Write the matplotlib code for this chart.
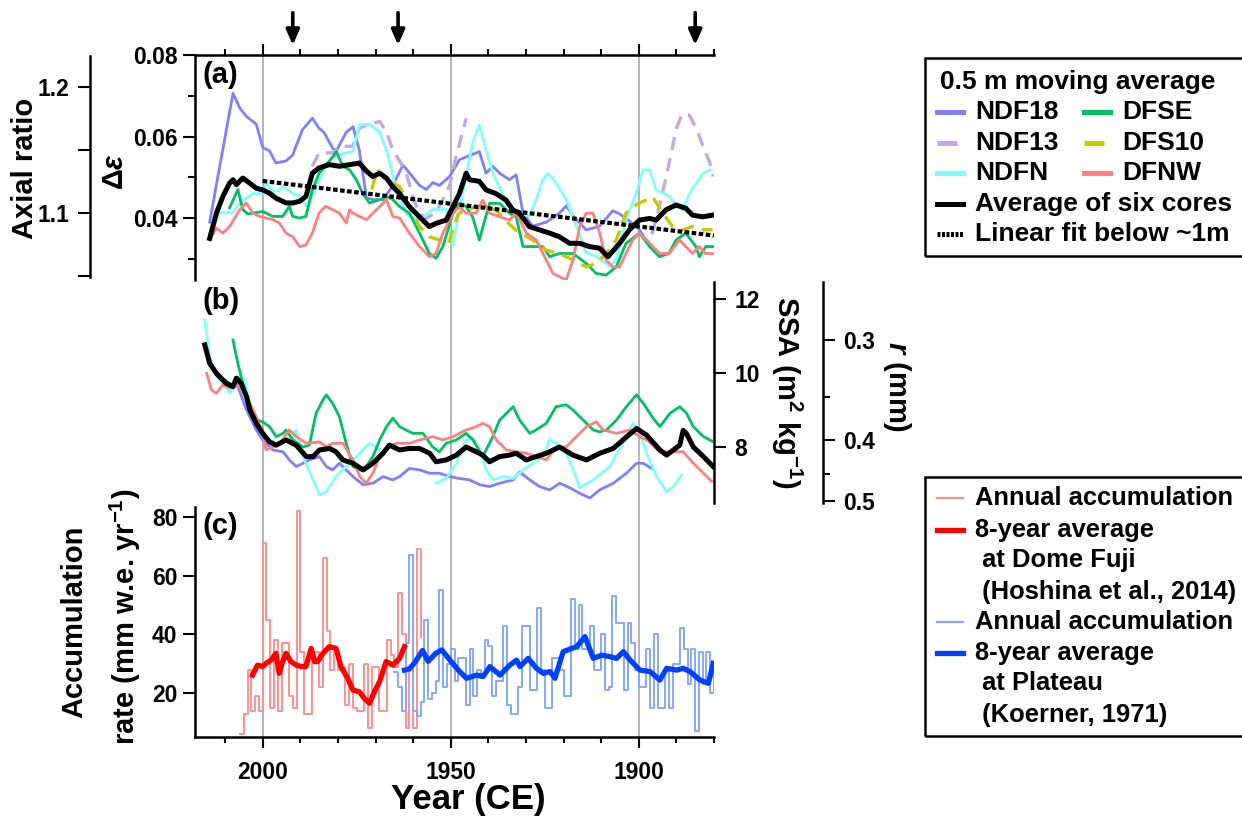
import numpy as np
import matplotlib
matplotlib.use("Agg")
import matplotlib.pyplot as plt
from matplotlib.lines import Line2D
from matplotlib.patches import Rectangle

W, H = 1242, 825

plt.rcParams['font.family'] = ['Liberation Sans', 'DejaVu Sans']
plt.rcParams['font.weight'] = 'bold'
plt.rcParams['mathtext.fontset'] = 'custom'
plt.rcParams['mathtext.rm'] = 'Liberation Sans:bold'
plt.rcParams['mathtext.it'] = 'Liberation Sans:bold:italic'
plt.rcParams['mathtext.bf'] = 'Liberation Sans:bold'

# ---- shared time axis ----
YEARS_MAJOR = [2000, 1950, 1900]
YEARS_MINOR = [2010, 1990, 1980, 1970, 1960, 1940, 1930, 1920, 1910, 1890, 1880]
ARROW_YEARS = [1992, 1964, 1885]

# ---- (a) delta epsilon, 0.5 m moving average ----
NDF18_A_YR = [2014.1, 2007.9, 2006.1, 2004.4, 2001.7, 2000.0, 1998.2, 1996.5, 1993.8, 1992.0,
              1991.2, 1989.4, 1986.8, 1985.0, 1983.7, 1981.3, 1980.4, 1977.8, 1976.0, 1974.3,
              1972.4, 1970.7, 1968.0, 1965.4, 1962.7, 1961.8, 1958.3, 1956.5, 1954.8, 1953.0,
              1950.3, 1947.7, 1945.9, 1942.4, 1940.6, 1938.8, 1937.0, 1934.4, 1932.6, 1930.8,
              1928.2, 1924.6, 1921.1, 1919.3, 1917.5, 1914.0, 1910.4, 1906.9, 1905.1, 1903.4,
              1899.8, 1897.1]
NDF18_A = [0.039, 0.0706, 0.067, 0.065, 0.063, 0.0573, 0.0565, 0.0535, 0.054, 0.0555,
           0.0575, 0.0617, 0.0645, 0.062, 0.061, 0.057, 0.0565, 0.061, 0.0624, 0.0566,
           0.045, 0.0445, 0.0445, 0.048, 0.053, 0.052, 0.048, 0.047, 0.0487, 0.048,
           0.0502, 0.0543, 0.055, 0.0563, 0.051, 0.0527, 0.051, 0.0494, 0.0506, 0.0412,
           0.038, 0.039, 0.0412, 0.043, 0.0406, 0.0371, 0.038, 0.0418, 0.041, 0.040,
           0.0371, 0.033]

NDF13_A_YR = [1986.8, 1985.0, 1981.3, 1979.6, 1976.0, 1974.3, 1972.4, 1968.9, 1967.1, 1965.4,
              1963.6, 1961.8, 1960.0, 1958.3, 1956.5, 1953.9, 1952.1, 1950.3, 1948.6, 1945.9]
NDF13_A = [0.0527, 0.056, 0.056, 0.0576, 0.0576, 0.062, 0.0628, 0.0637, 0.0612, 0.0567,
           0.054, 0.051, 0.045, 0.0412, 0.040, 0.0412, 0.0445, 0.048, 0.0551, 0.0645]
NDF13_B_YR = [1896.5, 1895.0, 1892.5, 1890.0, 1888.5, 1886.5, 1884.6, 1882.9, 1881.1, 1880.2]
NDF13_B = [0.036, 0.041, 0.051, 0.062, 0.0655, 0.0652, 0.0617, 0.0576, 0.0535, 0.0502]

NDFN_A_YR = [2014.1, 2012.3, 2011.4, 2007.9, 2006.1, 2002.6, 2000.0, 1999.1, 1997.3, 1995.6,
             1994.7, 1992.0, 1990.2, 1988.5, 1986.8, 1985.0, 1983.3, 1981.3, 1977.8, 1976.0,
             1974.3, 1971.6, 1968.9, 1967.1, 1964.5, 1961.8, 1960.0, 1958.3, 1954.8, 1951.2,
             1949.5, 1947.0, 1944.2, 1942.4, 1940.6, 1938.8, 1936.2, 1933.5, 1930.8, 1929.1,
             1927.3, 1925.5, 1924.2, 1922.0, 1919.3, 1916.6, 1914.0, 1911.3, 1907.8, 1906.0,
             1903.4, 1900.7, 1898.9, 1897.1, 1895.4, 1891.8, 1890.0, 1888.3, 1886.5, 1882.9,
             1881.1]
NDFN_A = [0.0363, 0.0396, 0.0413, 0.0413, 0.0437, 0.046, 0.046, 0.0486, 0.0466, 0.0466,
          0.0478, 0.046, 0.0453, 0.0429, 0.0453, 0.0494, 0.0527, 0.0551, 0.056, 0.0564,
          0.0628, 0.063, 0.061, 0.0567, 0.047, 0.041, 0.040, 0.0396, 0.0421, 0.0421,
          0.0331, 0.045, 0.0584, 0.0628, 0.0567, 0.051, 0.046, 0.041, 0.041, 0.0404,
          0.0445, 0.0494, 0.051, 0.0486, 0.0445, 0.038, 0.0315, 0.0306, 0.0282, 0.0298,
          0.0396, 0.046, 0.0518, 0.0518, 0.0469, 0.0453, 0.0429, 0.0421, 0.0461, 0.051,
          0.0518]

DFSE_A_YR = [2008.8, 2006.6, 2005.3, 2004.0, 2000.0, 1997.3, 1994.7, 1992.9, 1992.0, 1990.2,
             1988.5, 1986.8, 1985.0, 1981.3, 1980.4, 1978.7, 1976.9, 1975.1, 1973.4, 1971.6,
             1968.9, 1967.1, 1965.4, 1963.6, 1961.0, 1958.3, 1955.7, 1953.9, 1952.1, 1949.4,
             1947.7, 1945.9, 1944.2, 1942.4, 1939.7, 1937.0, 1934.4, 1932.6, 1930.8, 1928.2,
             1925.5, 1923.7, 1921.1, 1917.5, 1914.0, 1911.3, 1908.7, 1906.0, 1903.4, 1899.8,
             1897.1, 1894.5, 1892.0, 1890.1, 1887.5, 1884.8, 1883.9, 1882.2, 1880.4]
DFSE_A = [0.0425, 0.047, 0.0421, 0.041, 0.0416, 0.0404, 0.0404, 0.0429, 0.0404, 0.040,
          0.0404, 0.0469, 0.051, 0.0551, 0.0563, 0.0527, 0.0518, 0.0494, 0.046, 0.0437,
          0.0445, 0.0453, 0.0445, 0.0428, 0.0412, 0.0363, 0.0313, 0.0301, 0.033, 0.0412,
          0.0436, 0.0428, 0.0403, 0.0346, 0.0436, 0.0436, 0.0412, 0.0403, 0.033, 0.033,
          0.033, 0.0305, 0.0313, 0.0313, 0.0289, 0.0264, 0.026, 0.028, 0.0338, 0.0363,
          0.033, 0.0305, 0.0313, 0.0346, 0.0363, 0.033, 0.0305, 0.033, 0.033]

DFS10_A_YR = [1971.0, 1969.5, 1968.0, 1966.0, 1963.6, 1961.0, 1958.3, 1955.7, 1953.0, 1950.5,
              1949.5, 1948.0, 1946.0, 1942.0, 1938.0, 1935.0, 1932.6, 1928.2, 1924.6, 1921.1,
              1917.5, 1914.0, 1911.3, 1908.7, 1906.0, 1903.4, 1901.6, 1898.0, 1896.3, 1893.6,
              1891.0, 1888.3, 1885.7, 1883.0, 1880.4]
DFS10_A = [0.047, 0.052, 0.050, 0.049, 0.0477, 0.0428, 0.0379, 0.0354, 0.0346, 0.0338,
           0.037, 0.041, 0.042, 0.043, 0.042, 0.039, 0.037, 0.0346, 0.0321, 0.0313,
           0.0297, 0.028, 0.0289, 0.0313, 0.0346, 0.0412, 0.0428, 0.0445, 0.0452, 0.0412,
           0.0379, 0.0371, 0.0379, 0.0371, 0.0371]

DFNW_A_YR = [2014.4, 2014.1, 2012.3, 2010.6, 2008.8, 2006.1, 2004.4, 2002.6, 2000.9, 1999.1,
             1997.3, 1995.6, 1993.8, 1992.0, 1990.2, 1988.5, 1986.8, 1985.0, 1983.3, 1981.3,
             1979.6, 1977.8, 1976.9, 1976.0, 1974.3, 1972.4, 1970.7, 1968.9, 1967.1, 1965.4,
             1963.6, 1961.0, 1958.3, 1955.7, 1953.9, 1952.1, 1949.4, 1947.7, 1945.9, 1943.3,
             1941.5, 1939.7, 1937.0, 1934.4, 1932.6, 1929.9, 1927.3, 1924.6, 1922.8, 1921.1,
             1919.3, 1917.5, 1915.7, 1914.0, 1912.2, 1910.4, 1908.7, 1906.9, 1905.1, 1903.4,
             1901.6, 1899.8, 1897.1, 1894.5, 1891.9, 1889.2, 1887.5, 1885.7, 1884.0, 1882.2,
             1880.4]
DFNW_A = [0.035, 0.0346, 0.0375, 0.0363, 0.0379, 0.042, 0.0437, 0.0412, 0.0404, 0.040,
          0.0396, 0.0388, 0.0363, 0.0354, 0.033, 0.0334, 0.0363, 0.0412, 0.0429, 0.042,
          0.0412, 0.0388, 0.042, 0.0412, 0.0404, 0.0396, 0.0412, 0.0428, 0.0445, 0.0404,
          0.040, 0.0363, 0.033, 0.0305, 0.0313, 0.0363, 0.0412, 0.0428, 0.0412, 0.0412,
          0.0444, 0.0412, 0.0403, 0.0395, 0.0412, 0.0363, 0.0346, 0.0297, 0.0264, 0.0256,
          0.0248, 0.0297, 0.0379, 0.0412, 0.0412, 0.0363, 0.0297, 0.028, 0.028, 0.0313,
          0.0346, 0.0363, 0.0338, 0.0313, 0.0313, 0.0346, 0.033, 0.0313, 0.033, 0.0313,
          0.0313]

MEAN_A_YR = [2014.1, 2012.3, 2010.6, 2008.8, 2007.9, 2007.0, 2005.3, 2003.5, 2001.7, 2000.0,
             1998.2, 1996.5, 1993.8, 1992.0, 1990.2, 1988.5, 1986.8, 1985.0, 1982.3, 1979.6,
             1976.9, 1974.3, 1972.4, 1970.7, 1968.9, 1967.1, 1965.4, 1963.6, 1961.0, 1958.3,
             1955.7, 1953.9, 1951.2, 1949.4, 1947.7, 1945.9, 1945.0, 1942.4, 1940.6, 1938.0,
             1935.3, 1933.5, 1931.8, 1929.1, 1926.4, 1923.7, 1921.1, 1918.4, 1915.7, 1913.1,
             1910.4, 1908.2, 1905.1, 1902.5, 1899.8, 1897.1, 1895.4, 1892.8, 1890.1, 1887.5,
             1885.7, 1883.0, 1880.4]
MEAN_A = [0.035, 0.0412, 0.0453, 0.0486, 0.0494, 0.0482, 0.0498, 0.0486, 0.0473, 0.0469,
          0.0461, 0.0449, 0.0437, 0.0437, 0.0441, 0.0453, 0.051, 0.0523, 0.0531, 0.0527,
          0.0531, 0.0535, 0.0515, 0.0502, 0.051, 0.0498, 0.0477, 0.046, 0.0428, 0.0403,
          0.0379, 0.0387, 0.0395, 0.0428, 0.046, 0.051, 0.0494, 0.049, 0.0469, 0.046,
          0.0444, 0.042, 0.0412, 0.0379, 0.0371, 0.0363, 0.0354, 0.0338, 0.0338, 0.033,
          0.0326, 0.0305, 0.0338, 0.0371, 0.0395, 0.0399, 0.0395, 0.042, 0.0432, 0.0424,
          0.0407, 0.0403, 0.0407]

FIT_YR = [2000, 1880]
FIT_A = [0.0491, 0.0357]

# ---- (b) specific surface area ----
NDF18_B_YR = [2013.3, 2011.4, 2008.8, 2006.6, 2004.3, 2001.7, 2000.0, 1997.3, 1994.6, 1992.9,
              1991.1, 1989.3, 1987.6, 1984.9, 1983.1, 1981.4, 1979.6, 1977.8, 1976.0, 1973.3,
              1970.7, 1968.0, 1965.4, 1963.6, 1961.0, 1958.3, 1955.6, 1953.0, 1950.3, 1947.7,
              1945.0, 1942.3, 1939.7, 1937.0, 1933.4, 1931.7, 1929.0, 1926.4, 1923.7, 1921.0,
              1918.4, 1915.7, 1913.0, 1910.4, 1906.8, 1903.3, 1900.6, 1898.8, 1896.6]
NDF18_B = [10.1, 9.9, 9.72, 9.63, 9.0, 8.46, 8.19, 7.92, 7.87, 7.65,
           7.47, 7.56, 7.65, 7.74, 7.47, 7.38, 7.56, 7.38, 7.2, 6.98,
           7.02, 7.2, 7.11, 7.2, 7.42, 7.38, 7.29, 7.29, 7.2, 7.15,
           7.11, 6.98, 6.93, 7.02, 7.11, 7.33, 7.11, 6.93, 6.84, 7.02,
           6.9, 6.75, 6.62, 6.84, 7.02, 7.29, 7.56, 7.56, 7.42]

NDFN_B1_YR = [2015.4, 2014.1, 2012.3, 2009.7, 2008.8, 2007.5, 2006.1, 2004.8, 2003.4, 2000.0,
              1996.4, 1992.9, 1991.1, 1989.3, 1986.6, 1984.9, 1983.1, 1980.5, 1976.9, 1974.2,
              1971.6, 1968.9]
NDFN_B1 = [11.43, 10.44, 9.9, 9.59, 9.45, 9.63, 9.9, 9.81, 9.18, 8.28,
           8.1, 8.19, 8.46, 7.74, 7.11, 6.7, 6.79, 7.2, 7.56, 7.83,
           8.1, 7.92]
NDFN_B2_YR = [1953.9, 1951.2, 1948.5, 1945.9, 1944.1, 1942.3, 1940.6, 1938.8, 1936.1, 1933.4,
              1930.8, 1928.1, 1925.5, 1923.7, 1921.9, 1919.3, 1917.5, 1915.7, 1912.1, 1907.7,
              1904.2, 1901.5, 1899.7, 1897.9, 1895.3, 1892.6, 1890.8, 1888.6]
NDFN_B2 = [7.02, 7.15, 7.56, 8.19, 8.24, 7.92, 7.38, 7.11, 7.2, 7.15,
           7.38, 7.56, 7.74, 8.19, 8.1, 7.83, 7.4, 6.9, 7.11, 7.47,
           8.1, 8.64, 8.37, 7.83, 7.2, 6.79, 6.93, 7.24]

DFSE_B_YR = [2007.9, 2006.6, 2005.3, 2003.4, 2001.7, 2000.0, 1998.2, 1996.4, 1994.6, 1993.8,
             1992.0, 1989.3, 1987.6, 1985.8, 1984.0, 1983.1, 1981.4, 1979.6, 1977.8, 1976.0,
             1974.2, 1972.5, 1970.7, 1968.9, 1967.1, 1965.4, 1963.6, 1961.9, 1960.1, 1957.4,
             1954.8, 1953.0, 1951.2, 1948.5, 1945.9, 1944.1, 1941.5, 1938.8, 1937.0, 1935.2,
             1933.4, 1931.7, 1929.0, 1927.3, 1924.6, 1922.0, 1919.3, 1917.5, 1914.8, 1912.1,
             1910.4, 1908.6, 1905.9, 1903.3, 1900.6, 1898.8, 1896.2, 1894.4, 1891.7, 1889.1,
             1887.3, 1885.5, 1882.8, 1880.2]
DFSE_B = [10.89, 10.26, 9.72, 8.9, 8.73, 8.68, 8.55, 8.28, 8.37, 8.46,
          8.19, 8.0, 8.05, 8.91, 9.27, 9.41, 9.18, 8.82, 8.1, 7.47,
          7.38, 7.47, 7.74, 8.19, 8.55, 8.78, 8.55, 8.46, 8.37, 8.37,
          8.0, 7.87, 8.1, 8.19, 8.37, 8.19, 7.74, 8.28, 8.73, 8.91,
          9.09, 8.73, 8.37, 8.46, 8.64, 9.09, 9.14, 9.0, 8.73, 8.46,
          8.41, 8.46, 8.73, 9.09, 9.41, 9.18, 8.78, 8.55, 8.91, 9.09,
          8.91, 8.55, 8.28, 8.14]

DFNW_B_YR = [2014.9, 2013.6, 2012.3, 2010.6, 2008.8, 2007.0, 2005.3, 2003.4, 2001.7, 2000.0,
             1999.1, 1997.3, 1995.5, 1992.9, 1991.1, 1988.4, 1984.9, 1983.1, 1981.4, 1978.7,
             1976.0, 1974.2, 1972.5, 1970.7, 1968.9, 1967.1, 1964.5, 1960.9, 1958.3, 1954.8,
             1952.1, 1949.4, 1945.9, 1943.2, 1941.5, 1939.7, 1937.9, 1935.2, 1932.6, 1929.9,
             1927.3, 1924.6, 1921.9, 1919.3, 1917.5, 1913.9, 1911.3, 1909.5, 1905.9, 1902.4,
             1899.7, 1897.9, 1894.4, 1890.8, 1888.2, 1885.5, 1882.8, 1880.6]
DFNW_B = [9.99, 9.54, 9.45, 9.68, 9.59, 9.72, 9.54, 9.18, 8.82, 8.37,
          7.92, 8.0, 8.1, 8.46, 8.28, 8.1, 8.14, 8.0, 8.1, 8.1,
          7.65, 7.2, 7.02, 7.29, 7.74, 8.0, 8.1, 8.1, 8.19, 8.28,
          8.19, 8.28, 8.46, 8.55, 8.64, 8.55, 8.19, 7.92, 7.87, 7.83,
          7.74, 7.65, 8.0, 8.0, 8.19, 8.55, 8.68, 8.46, 8.37, 8.46,
          8.28, 8.19, 7.87, 7.87, 7.87, 7.56, 7.29, 7.07]

MEAN_B_YR = [2015.4, 2014.1, 2012.3, 2009.7, 2007.9, 2007.0, 2005.7, 2004.3, 2003.4, 2001.7,
             2000.0, 1998.2, 1996.4, 1993.8, 1991.1, 1988.4, 1986.6, 1984.9, 1982.2, 1980.5,
             1978.7, 1976.0, 1973.3, 1970.7, 1968.0, 1966.3, 1963.6, 1961.0, 1958.3, 1955.6,
             1953.9, 1951.2, 1948.5, 1945.9, 1943.2, 1941.5, 1939.7, 1937.0, 1934.4, 1932.6,
             1929.9, 1927.3, 1924.6, 1921.1, 1917.5, 1913.9, 1910.4, 1906.8, 1903.3, 1900.6,
             1897.9, 1894.4, 1892.6, 1890.8, 1889.1, 1888.2, 1887.3, 1885.5, 1882.8, 1880.2]
MEAN_B = [10.76, 10.26, 9.99, 9.72, 9.63, 9.86, 9.72, 9.36, 9.0, 8.64,
          8.37, 8.14, 8.05, 8.19, 8.05, 7.74, 7.74, 7.92, 7.96, 7.87,
          7.65, 7.56, 7.38, 7.56, 7.83, 8.05, 7.92, 7.96, 7.96, 7.83,
          7.6, 7.65, 7.78, 8.0, 7.87, 7.78, 7.6, 7.74, 7.78, 7.83,
          7.65, 7.74, 7.83, 8.0, 7.78, 7.65, 7.83, 7.96, 8.27, 8.5,
          8.32, 7.92, 7.78, 7.92, 8.05, 8.45, 8.36, 8.0, 7.74, 7.47]

# grain radius ticks (mm) on the SSA scale, SSA = 3 / (rho_ice * r)
RHO_ICE = 917.0
R_MAJOR = [0.3, 0.4, 0.5]
R_MINOR = [0.35, 0.45]

# ---- (c) accumulation rate (mm w.e. per year) ----
DF_ANNUAL_YR = list(range(2006, 1957, -1))
DF_ANNUAL = [6, 13, 28, 14, 19, 14, 71, 45, 15, 38,
             14, 37, 37, 19, 15, 82, 34, 13, 13, 34,
             34, 22, 66, 41, 28, 34, 28, 29, 16, 30,
             15, 14, 14, 30, 8, 29, 29, 14, 14, 38,
             33, 29, 54, 40, 8, 28, 8, 69, 39]
DF_8YR_YR = [2002.7, 2001.4, 2000.0, 1999.1, 1997.8, 1996.5, 1995.6, 1994.7, 1993.8, 1992.5,
             1991.1, 1989.8, 1988.5, 1987.1, 1986.2, 1985.4, 1984.0, 1982.3, 1980.5, 1979.2,
             1977.4, 1976.0, 1974.3, 1973.0, 1971.6, 1970.3, 1968.9, 1967.2, 1965.4, 1963.6,
             1962.3]
DF_8YR = [26.1, 29.5, 29.0, 30.1, 31.2, 33.5, 26.7, 30.7, 33.5, 30.7,
          29.5, 29.0, 29.0, 35.2, 30.7, 30.7, 33.5, 35.8, 35.2, 29.0,
          25.0, 21.0, 20.4, 18.2, 16.5, 20.4, 23.9, 30.7, 29.5, 31.8,
          35.8]

PL_ANNUAL_YR = list(range(1965, 1879, -1))
PL_ANNUAL = [27, 22, 14, 37, 67, 14, 12, 17, 45, 18,
             20, 24, 55, 22, 30, 35, 24, 32, 32, 16,
             35, 19, 28, 26, 38, 36, 19, 24, 24, 43,
             16, 13, 13, 22, 43, 43, 21, 21, 49, 28,
             15, 15, 32, 32, 28, 19, 19, 52, 35, 50,
             35, 35, 43, 28, 28, 40, 21, 22, 53, 44,
             44, 21, 44, 37, 28, 22, 22, 35, 15, 40,
             15, 15, 28, 15, 30, 30, 42, 35, 23, 35,
             7, 34, 23, 34, 20, 30]
PL_8YR_YR = [1962.3, 1961.0, 1959.5, 1957.5, 1956.0, 1954.0, 1952.4, 1950.2, 1948.0, 1945.8,
             1943.1, 1941.4, 1939.6, 1936.9, 1934.3, 1932.5, 1931.6, 1929.4, 1927.2, 1925.4,
             1923.6, 1922.3, 1920.1, 1916.5, 1914.3, 1912.1, 1909.9, 1907.7, 1905.9, 1904.1,
             1902.3, 1899.7, 1897.0, 1894.4, 1892.6, 1889.9, 1888.2, 1886.4, 1883.7, 1881.5,
             1880.2]
PL_8YR = [27.8, 28.2, 30.5, 34.5, 30.8, 33.5, 34.7, 31.2, 27.8, 25.0,
          26.1, 25.6, 29.0, 26.1, 29.5, 31.2, 29.0, 31.8, 28.4, 26.7,
          27.3, 25.0, 34.1, 35.8, 39.2, 31.8, 32.9, 32.4, 31.8, 34.1,
          31.2, 27.8, 27.3, 24.4, 28.4, 27.8, 28.4, 27.3, 24.4, 23.3,
          30.1]

C_NDF18 = '#8080FF'
C_NDF13 = '#C4A8E4'
C_NDFN = '#80FFFF'
C_DFSE = '#00C060'
C_DFS10 = '#C8C800'
C_DFNW = '#FF8080'
DASH = (0, (4, 2.5))
DOTS = (0, (1.1, 0.6))

SPINE_W = 1.8
TICK_W = 1.5
TICK_FS = 16.5
LABEL_FS = 21
LEG_FS = 19
LEG_C_FS = 18.4


def px_axes(fig, x0, y0, x1, y1, **kw):
    return fig.add_axes([x0 / W, 1 - y1 / H, (x1 - x0) / W, (y1 - y0) / H], **kw)


def strip(ax):
    ax.patch.set_visible(False)
    for s in ax.spines.values():
        s.set_visible(False)
        s.set_linewidth(SPINE_W)
    ax.tick_params(axis='x', which='both', bottom=False, top=False,
                   labelbottom=False, labeltop=False)
    ax.tick_params(axis='y', which='both', width=TICK_W, labelsize=TICK_FS)
    ax.tick_params(axis='y', which='major', length=8.6)
    ax.tick_params(axis='y', which='minor', length=5)


def ftext(fig, x, y, s, **kw):
    return fig.text(x / W, 1 - y / H, s, **kw)


def fline(fig, x0, x1, y, **kw):
    fig.add_artist(Line2D([x0 / W, x1 / W], [1 - y / H] * 2,
                          transform=fig.transFigure, **kw))


def fbox(fig, x0, y0, y1):
    fig.add_artist(Rectangle((x0 / W, 1 - y1 / H), (W + 20 - x0) / W, (y1 - y0) / H,
                             transform=fig.transFigure, fill=False, ec='k',
                             lw=1.8, clip_on=False))


fig = plt.figure(figsize=(W / 100, H / 100), dpi=100)

# base axes: time axis on top and bottom plus the century lines
base = px_axes(fig, 195, 55, 714, 737)
base.set_xlim(2018, 1880)
base.set_ylim(0, 1)
base.spines['left'].set_visible(False)
base.spines['right'].set_visible(False)
base.spines['top'].set_linewidth(SPINE_W)
base.spines['bottom'].set_linewidth(SPINE_W)
base.set_yticks([])
base.set_xticks(YEARS_MAJOR)
base.set_xticks(YEARS_MINOR, minor=True)
base.tick_params(axis='x', which='both', top=True, bottom=True, direction='out',
                 width=TICK_W, labelsize=TICK_FS, pad=9)
base.tick_params(axis='x', which='major', length=8)
base.tick_params(axis='x', which='minor', length=4.3)
for yr in YEARS_MAJOR:
    base.axvline(yr, color='#A8A8A8', lw=1.2, zorder=0)
for yr in ARROW_YEARS:
    base.annotate('', xy=(yr, 1.0147), xycoords=('data', 'axes fraction'),
                  xytext=(yr, 1.062), textcoords=('data', 'axes fraction'),
                  annotation_clip=False,
                  arrowprops=dict(arrowstyle='-|>,head_length=0.45,head_width=0.2',
                                  mutation_scale=20, lw=2.6, color='k',
                                  shrinkA=0, shrinkB=0))

# (a) delta epsilon with axial ratio scale
ax_a = px_axes(fig, 195, 55, 714, 280, sharex=base)
strip(ax_a)
ax_a.spines['left'].set_visible(True)
ax_a.set_ylim(0.0248, 0.08)
ax_a.set_yticks([0.04, 0.06, 0.08])
ax_a.set_yticks([0.03, 0.05, 0.07], minor=True)
ax_a.set_yticklabels(['0.04', '0.06', '0.08'])
ax_a.tick_params(axis='y', pad=4)

ax_a.plot(NDF18_A_YR, NDF18_A, color=C_NDF18, lw=2)
ax_a.plot(NDF13_A_YR, NDF13_A, color=C_NDF13, lw=2.4, ls=DASH)
ax_a.plot(NDF13_B_YR, NDF13_B, color=C_NDF13, lw=2.4, ls=DASH)
ax_a.plot(NDFN_A_YR, NDFN_A, color=C_NDFN, lw=2)
ax_a.plot(DFSE_A_YR, DFSE_A, color=C_DFSE, lw=2)
ax_a.plot(DFS10_A_YR, DFS10_A, color=C_DFS10, lw=2.4, ls=DASH)
ax_a.plot(DFNW_A_YR, DFNW_A, color=C_DFNW, lw=2)
ax_a.plot(MEAN_A_YR, MEAN_A, color='k', lw=3.6)
ax_a.plot(FIT_YR, FIT_A, color='k', lw=3, ls=DOTS)

ax_ar = ax_a.twinx()
strip(ax_ar)
ax_a.yaxis.tick_left()
ax_ar.spines['left'].set_visible(True)
ax_ar.spines['left'].set_position(('axes', -(195 - 90) / 519))
ax_ar.yaxis.tick_left()
ax_ar.set_ylim(1.0468, 1.2254)
ax_ar.spines['left'].set_bounds(1.049, 1.2246)
ax_ar.set_yticks([1.05, 1.1, 1.15, 1.2])
ax_ar.set_yticklabels(['', '1.1', '', '1.2'])
ax_ar.tick_params(axis='y', pad=6)

# (b) SSA with grain radius scale
ax_b = px_axes(fig, 195, 282, 714, 503, sharex=base)
strip(ax_b)
ax_b.spines['right'].set_visible(True)
ax_b.set_ylim(6.486, 12.46)
ax_b.set_yticks([8, 10, 12])

ax_b.plot(NDF18_B_YR, NDF18_B, color=C_NDF18, lw=2)
ax_b.plot(NDFN_B1_YR, NDFN_B1, color=C_NDFN, lw=2)
ax_b.plot(NDFN_B2_YR, NDFN_B2, color=C_NDFN, lw=2)
ax_b.plot(DFSE_B_YR, DFSE_B, color=C_DFSE, lw=2)
ax_b.plot(DFNW_B_YR, DFNW_B, color=C_DFNW, lw=2)
ax_b.plot(MEAN_B_YR, MEAN_B, color='k', lw=3.6)

ax_r = ax_b.twinx()
strip(ax_r)
# twinx puts the parent ticks back on the left
ax_b.yaxis.tick_right()
ax_b.tick_params(axis='y', pad=6)
ax_r.spines['right'].set_visible(True)
ax_r.spines['right'].set_position(('axes', 1 + (823 - 714) / 519))
ax_r.yaxis.tick_right()
ax_r.set_ylim(6.486, 12.46)
ssa_of_r = lambda r: 3.0 / (RHO_ICE * np.asarray(r) * 1e-3)
ax_r.set_yticks(ssa_of_r(R_MAJOR))
ax_r.set_yticklabels(['%.1f' % r for r in R_MAJOR])
ax_r.set_yticks(ssa_of_r(R_MINOR), minor=True)
ax_r.tick_params(axis='y', pad=6)

# (c) accumulation
ax_c = px_axes(fig, 195, 507, 714, 737, sharex=base)
strip(ax_c)
ax_c.spines['left'].set_visible(True)
ax_c.set_ylim(5.0, 83.4)
ax_c.set_yticks([20, 40, 60, 80])
ax_c.tick_params(axis='y', pad=4)

ax_c.plot(DF_ANNUAL_YR, DF_ANNUAL, color='#FF9090', lw=1.4, drawstyle='steps-post')
ax_c.plot(PL_ANNUAL_YR, PL_ANNUAL, color='#86A6FF', lw=1.4, drawstyle='steps-post')
ax_c.plot(DF_8YR_YR, DF_8YR, color='#FF0000', lw=3.8)
ax_c.plot(PL_8YR_YR, PL_8YR, color='#0040FF', lw=3.8)

# panel tags and axis titles
for tag, y in [('(a)', 75), ('(b)', 301), ('(c)', 526)]:
    ftext(fig, 202, y, tag, fontsize=LABEL_FS, ha='left', va='center')
ftext(fig, 25, 168, 'Axial ratio', fontsize=LABEL_FS, rotation=90, ha='center', va='center')
ftext(fig, 115, 171, r'$\Delta\varepsilon$', fontsize=LABEL_FS, rotation=90,
      ha='center', va='center')
ftext(fig, 787, 392, r'SSA (m$^{2}$ kg$^{-1}$)', fontsize=LABEL_FS, rotation=270,
      ha='center', va='center')
ftext(fig, 897, 387, r'$r$ (mm)', fontsize=LABEL_FS, rotation=270, ha='center', va='center')
ftext(fig, 74, 622, 'Accumulation', fontsize=LABEL_FS, rotation=90, ha='center', va='center')
ftext(fig, 125, 617, r'rate (mm w.e. yr$^{-1}$)', fontsize=LABEL_FS, rotation=90,
      ha='center', va='center')
ftext(fig, 468, 800, 'Year (CE)', fontsize=25, ha='center', va='center')

# legend for (a) and (b)
fbox(fig, 925, 58, 256)
ftext(fig, 940, 82, '0.5 m moving average', fontsize=LEG_FS, va='center')
rows = [
    (112, [(C_NDF18, '-', 'NDF18'), (C_DFSE, '-', 'DFSE')]),
    (143, [(C_NDF13, DASH, 'NDF13'), (C_DFS10, DASH, 'DFS10')]),
    (173, [(C_NDFN, '-', 'NDFN'), (C_DFNW, '-', 'DFNW')]),
]
for y, pair in rows:
    for (c, ls, name), (hx, tx) in zip(pair, [(937, 975), (1084, 1122)]):
        fline(fig, hx, hx + 26, y, color=c, lw=3.6, ls=ls)
        ftext(fig, tx, y, name, fontsize=LEG_FS, va='center')
fline(fig, 937, 963, 204, color='k', lw=3.6)
ftext(fig, 975, 204, 'Average of six cores', fontsize=LEG_FS, va='center')
fline(fig, 937, 963, 234, color='k', lw=3.6, ls=(0, (0.6, 0.3)))
ftext(fig, 975, 234, 'Linear fit below ~1m', fontsize=LEG_FS, va='center')

# legend for (c)
fbox(fig, 925, 477, 736)
leg_c = [
    (498, '#FF9090', 1.6, 'Annual accumulation'),
    (530, '#FF0000', 3.8, '8-year average'),
    (560, None, 0, ' at Dome Fuji'),
    (592, None, 0, ' (Hoshina et al., 2014)'),
    (622, '#86A6FF', 1.6, 'Annual accumulation'),
    (653, '#0040FF', 3.8, '8-year average'),
    (683, None, 0, ' at Plateau'),
    (715, None, 0, ' (Koerner, 1971)'),
]
for y, c, lw, s in leg_c:
    if c is not None:
        fline(fig, 937, 963, y, color=c, lw=lw)
    ftext(fig, 975, y, s, fontsize=LEG_C_FS, va='center')

fig.savefig('out.png', dpi=100)
